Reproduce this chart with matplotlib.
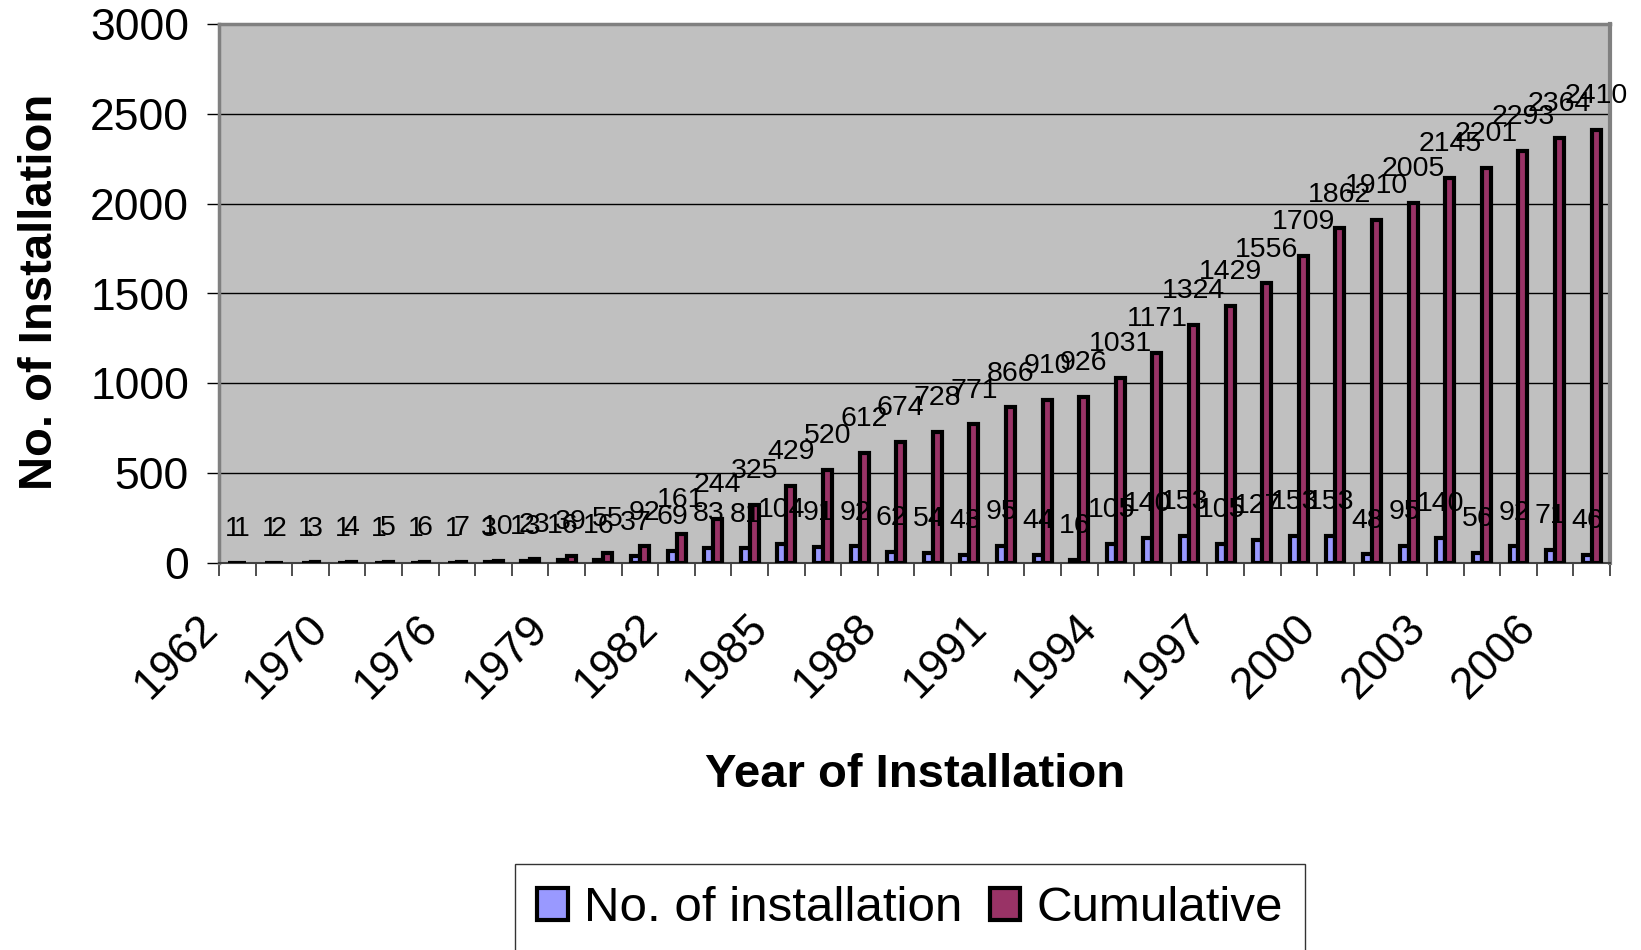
import matplotlib
matplotlib.use("Agg")
import matplotlib.pyplot as plt
import matplotlib.transforms as mtransforms
from matplotlib.patches import Patch
import numpy as np

plt.rcParams['font.family'] = ['Liberation Sans', 'DejaVu Sans']

# years on the category axis (only every third one is printed)
years = [1962, 1965, 1968, 1970, 1972, 1974, 1976, 1977, 1978, 1979,
         1980, 1981, 1982, 1983, 1984, 1985, 1986, 1987, 1988, 1989,
         1990, 1991, 1992, 1993, 1994, 1995, 1996, 1997, 1998, 1999,
         2000, 2001, 2002, 2003, 2004, 2005, 2006, 2007]
installations = [1, 1, 1, 1, 1, 1, 1, 3, 13, 16,
                 16, 37, 69, 83, 81, 104, 91, 92, 62, 54,
                 43, 95, 44, 16, 105, 140, 153, 105, 127, 153,
                 153, 48, 95, 140, 56, 92, 71, 46]
cumulative = [1, 2, 3, 4, 5, 6, 7, 10, 23, 39,
              55, 92, 161, 244, 325, 429, 520, 612, 674, 728,
              771, 866, 910, 926, 1031, 1171, 1324, 1429, 1556, 1709,
              1862, 1910, 2005, 2145, 2201, 2293, 2364, 2410]

blue = '#9999FF'
plum = '#993366'

fig = plt.figure(figsize=(16.41, 9.5), dpi=100)
ax = fig.add_axes([219/1641, 1 - 563/950, 1391/1641, 539/950])
ax.set_facecolor('#C0C0C0')

x = np.arange(len(years)) + 0.5
w = 0.245
ax.bar(x - w/2, installations, w, color=blue, edgecolor='black', linewidth=3, zorder=3)
ax.bar(x + w/2, cumulative, w, color=plum, edgecolor='black', linewidth=3, zorder=3)

for xi, v in zip(x, installations):
    ax.annotate(str(v), (xi - w/2, v), xytext=(0, 15), textcoords='offset points',
                ha='center', va='bottom', fontsize=20.5, zorder=5)
for xi, v in zip(x, cumulative):
    ax.annotate(str(v), (xi + w/2, v), xytext=(0, 15), textcoords='offset points',
                ha='center', va='bottom', fontsize=20.5, zorder=5)

ax.set_xlim(0, len(years))
ax.set_ylim(0, 3000)
ax.set_yticks(range(0, 3001, 500))
ax.yaxis.grid(True, color='black', linewidth=1, zorder=1)
ax.set_axisbelow(True)
ax.tick_params(axis='y', labelsize=32, length=8.6, width=1, pad=13, color='black')

ax.set_xticks(range(len(years) + 1))
ax.set_xticklabels([])
ax.tick_params(axis='x', length=9.4, width=1.3, color='#404040')

offset = mtransforms.ScaledTranslation(-40/100, -44/100, fig.dpi_scale_trans)
for i, yr in enumerate(years):
    if i % 3 == 0:
        ax.text(x[i], 0, str(yr), transform=ax.get_xaxis_transform() + offset,
                rotation=45, rotation_mode='anchor', ha='right', va='top', fontsize=32)

for side in ['left', 'top', 'right']:
    ax.spines[side].set_color('#808080')
    ax.spines[side].set_linewidth(2.5)
ax.spines['right'].set_linewidth(3)
ax.spines['bottom'].set_color('#404040')
ax.spines['bottom'].set_linewidth(1.5)

fig.text(40/1641, 1 - 292/950, 'No. of Installation', rotation=90,
         ha='center', va='center', fontsize=34, fontweight='bold')
fig.text(915/1641, 1 - 775/950, 'Year of Installation',
         ha='center', va='center', fontsize=34, fontweight='bold')

handles = [Patch(facecolor=blue, edgecolor='black', linewidth=3, label='No. of installation'),
           Patch(facecolor=plum, edgecolor='black', linewidth=3, label='Cumulative')]
leg = fig.legend(handles=handles, loc='upper left', bbox_to_anchor=(515/1641, 1 - 864/950),
                 ncol=2, fontsize=35.5, frameon=True, fancybox=False, shadow=False,
                 handlelength=0.62, handleheight=0.62, handletextpad=0.33,
                 columnspacing=0.55, borderpad=0.45, borderaxespad=0)
leg.get_frame().set_edgecolor('black')
leg.get_frame().set_linewidth(1)

fig.savefig('out.png', dpi=100)
